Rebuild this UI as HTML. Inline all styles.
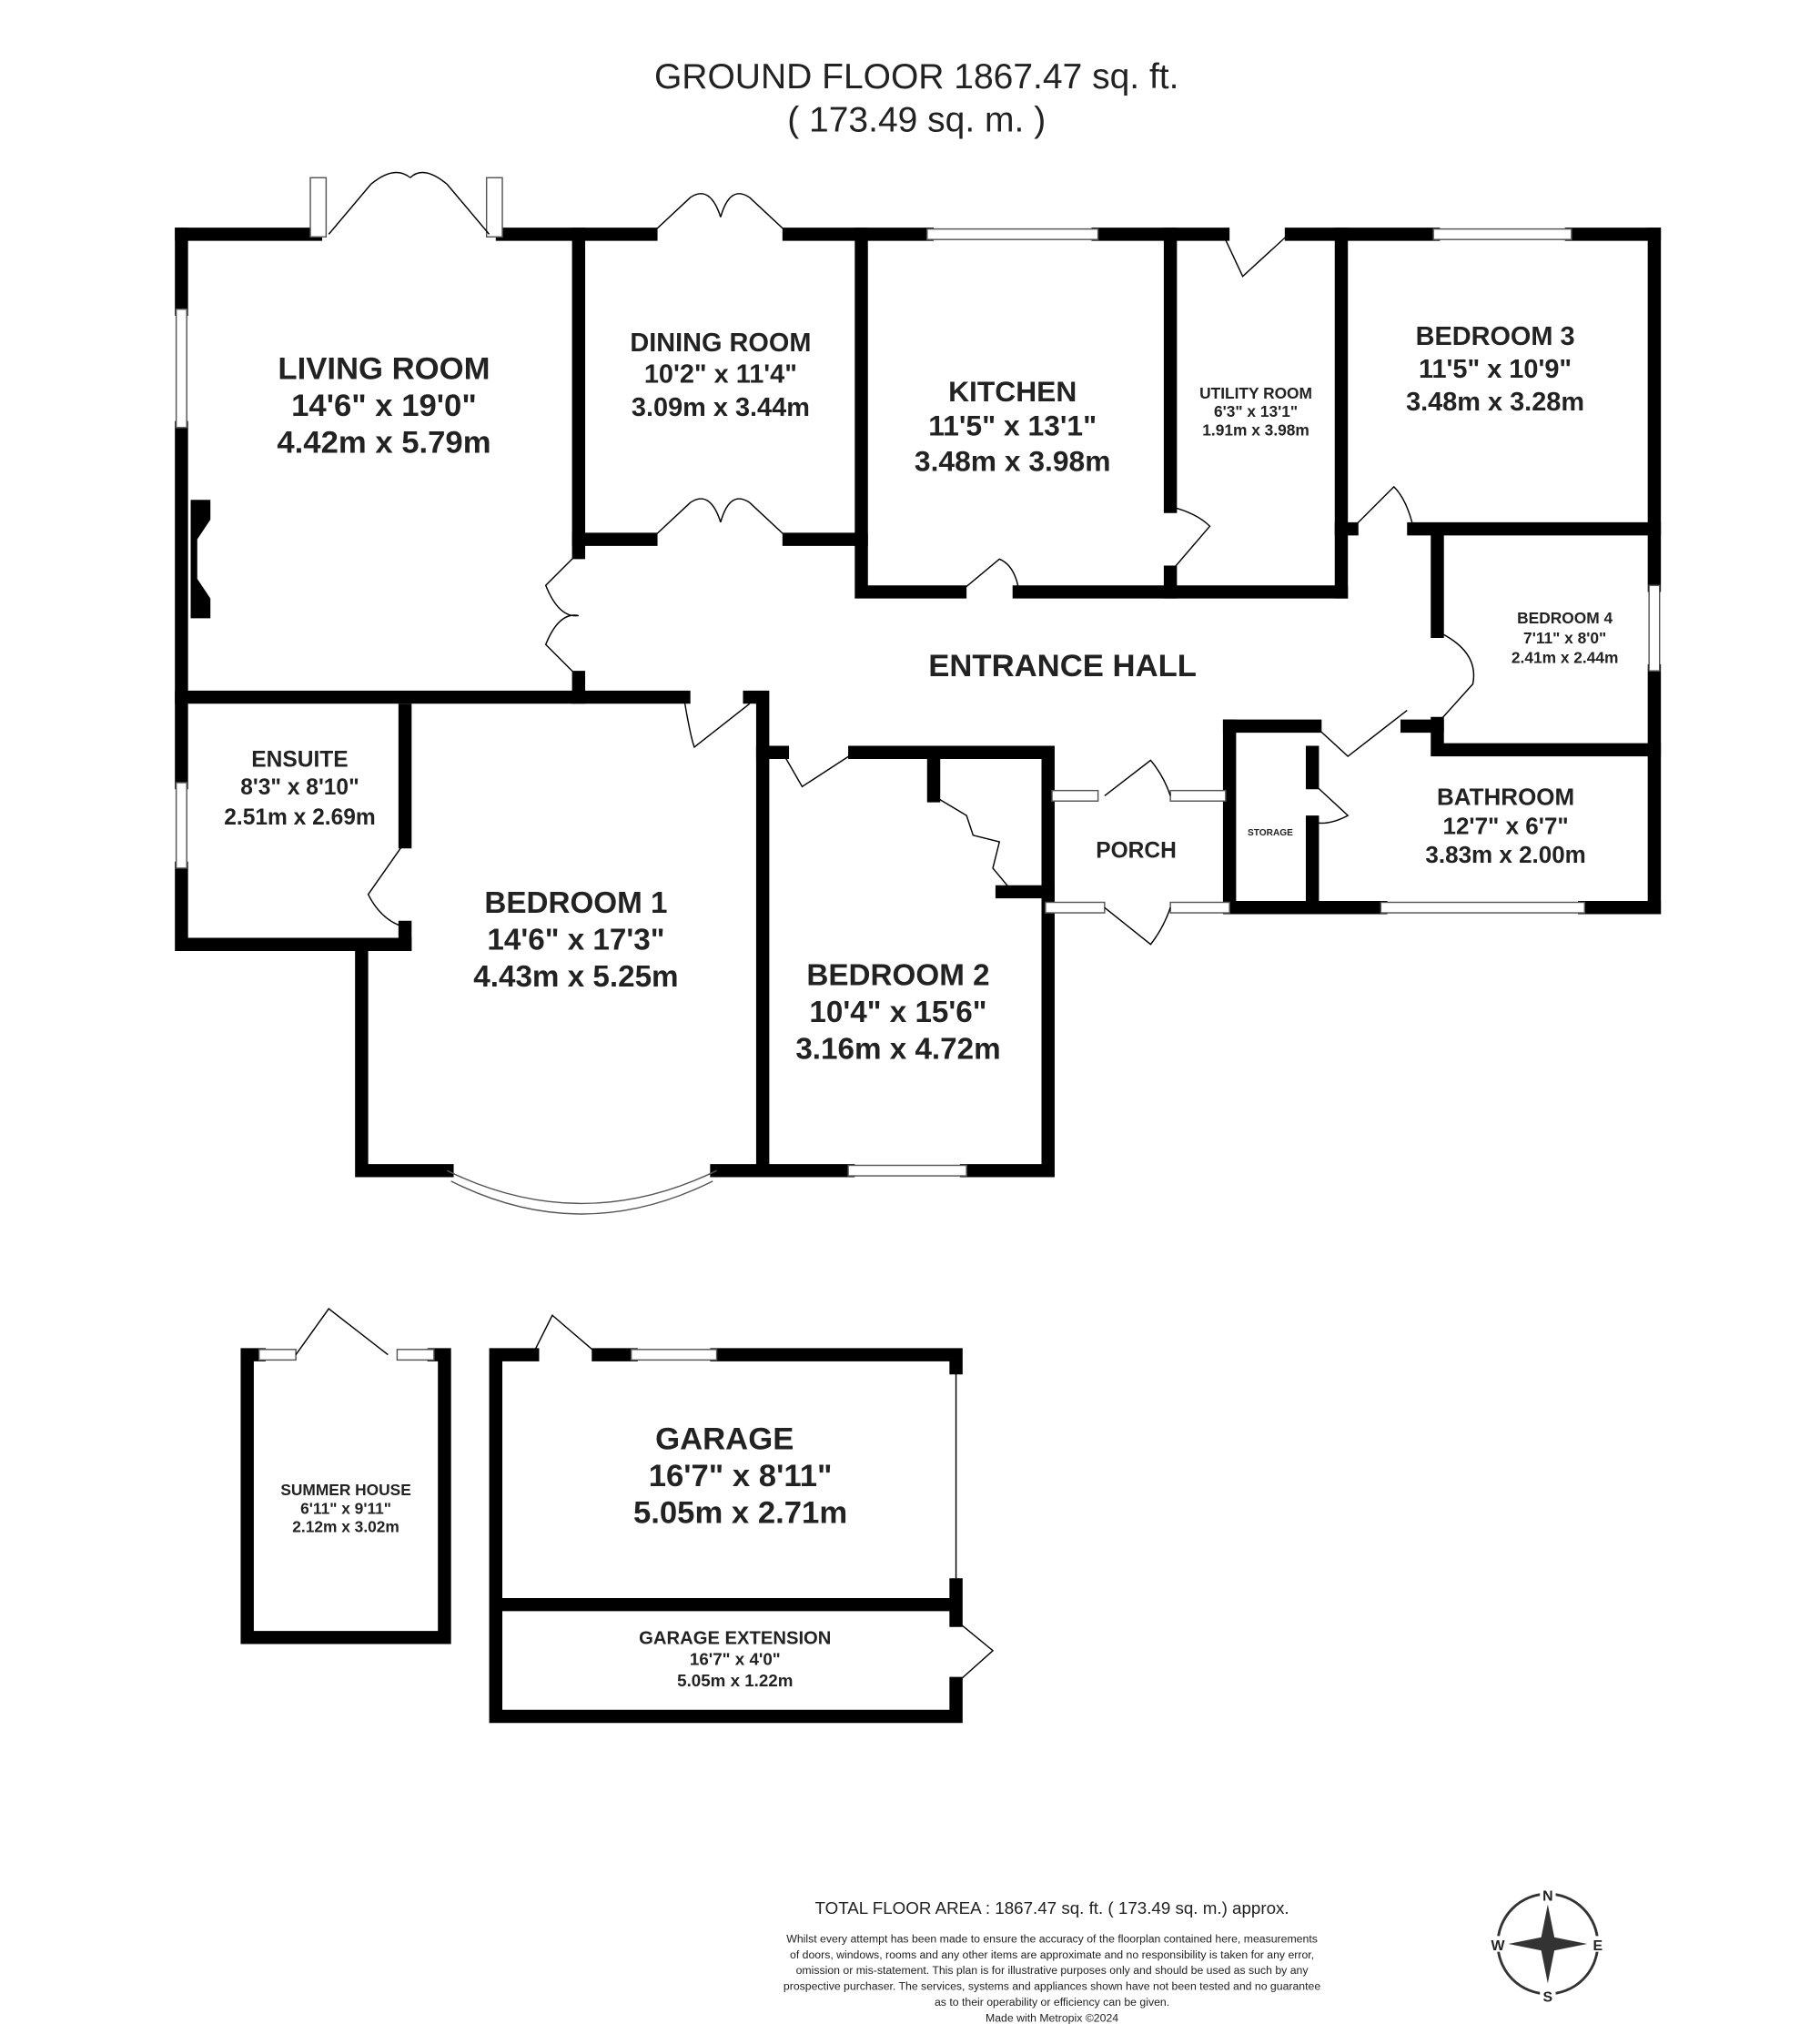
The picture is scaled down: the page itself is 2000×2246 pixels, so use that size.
<!DOCTYPE html>
<html><head><meta charset="utf-8"><style>
html,body{margin:0;padding:0;background:#fff}
svg{display:block}
text{font-family:"Liberation Sans",sans-serif;fill:#222;text-anchor:middle}
.b{font-weight:bold}
</style></head><body>
<svg width="2000" height="2246" viewBox="0 0 1384 1554" xmlns="http://www.w3.org/2000/svg">
<g stroke="#000" stroke-width="10" stroke-linecap="square" fill="none">
<path d="M138 178H240 M382 178H495 M600 178H705 M835 178H930 M982 178H1090 M1195 178H1258"/>
<path d="M1258 178V445 M1258 510V690"/>
<path d="M138 178V235 M138 325V595 M138 660V718H308"/>
<path d="M440 178V420 M440 515V530"/>
<path d="M440 410H495 M600 410H655"/>
<path d="M655 178V450H730 M775 450H1020"/>
<path d="M890 178V385 M890 435V450"/>
<path d="M1020 178V450"/>
<path d="M1020 402H1028 M1075 402H1258 M1093 402V480 M1093 550V570H1258"/>
<path d="M935 552H1000 M1070 552H1093"/>
<path d="M935 552V690H1050 M1205 690H1258"/>
<path d="M998 572V595 M998 625V690"/>
<path d="M138 530H520 M570 530H580V890"/>
<path d="M308 540V640 M308 705V718"/>
<path d="M275 718V890H340 M545 890H580"/>
<path d="M580 572H595 M650 572H797V690 M797 690V890H735 M645 890H580"/>
<path d="M710 572V605 M762 678H797"/>
<path d="M188 1030H197 M330 1030H338V1245H188V1030"/>
<path d="M377 1030V1305H727V1280 M727 1232V1205 M377 1030H405 M455 1030H480 M545 1030H727V1040 M377 1220H727"/>
</g>
<g stroke="#000" stroke-width="1" fill="none">
<line x1="727" y1="1040" x2="727" y2="1205"/>
<g fill="#fff" stroke="#555">
<rect x="236" y="135" width="12" height="45"/><rect x="370" y="135" width="12" height="45"/>
<rect x="705" y="174" width="130" height="8"/><rect x="1090" y="174" width="105" height="8"/>
<rect x="134" y="235" width="8" height="90"/><rect x="134" y="595" width="8" height="65"/>
<rect x="1254" y="445" width="8" height="65"/><rect x="1050" y="686" width="155" height="8"/>
<rect x="645" y="886" width="90" height="8"/>
<rect x="800" y="601" width="35" height="8"/><rect x="890" y="601" width="42" height="8"/>
<rect x="795" y="686" width="45" height="8"/><rect x="890" y="686" width="45" height="8"/>
<rect x="197" y="1026" width="28" height="8"/><rect x="302" y="1026" width="28" height="8"/>
<rect x="480" y="1026" width="65" height="8"/>
</g>
<path d="M340 890Q442 940 545 890 M343 898Q442 948 542 898" stroke="#555"/>
<path d="M250 178L282 140 M372 178L340 140 M282 140Q300 125 312 135 M340 140Q322 125 312 135"/>
<path d="M495 178L525 150 M600 178L570 150 M525 150Q540 140 548 165 M570 150Q555 140 548 165"/>
<path d="M495 410L525 382 M600 410L570 382 M525 382Q540 372 548 397 M570 382Q555 372 548 397"/>
<path d="M440 420L415 445Q425 470 440 468 M440 515L415 490Q425 465 440 468"/>
<path d="M730 450L760 425Q772 430 775 450"/>
<path d="M890 435L920 400Q910 390 890 385"/>
<path d="M930 178L945 210L980 178"/>
<path d="M1028 402L1060 370Q1070 380 1075 402"/>
<path d="M1093 550L1120 520Q1125 495 1093 480"/>
<path d="M1000 552L1025 575L1070 540"/>
<path d="M998 595L1025 620Q1010 628 998 625"/>
<path d="M840 605L875 578Q885 590 890 605"/>
<path d="M840 690L875 718Q885 705 890 690"/>
<path d="M520 530Q525 560 528 568L570 535"/>
<path d="M595 572L610 598L650 572"/>
<path d="M710 605L735 620L740 635L760 640L755 660L770 678"/>
<path d="M308 640L280 680Q290 700 308 705"/>
<path d="M225 1030L250 995L295 1030"/>
<path d="M405 1030L420 1000L455 1030"/>
<path d="M727 1232L755 1255L727 1280"/>
</g>
<path d="M145 380H160V395L150 410V440L160 455V470H145Z" fill="#000"/>
<circle cx="1177" cy="1478" r="38" fill="none" stroke="#333" stroke-width="2"/>
<path d="M1177 1448L1182 1473L1207 1478L1182 1483L1177 1508L1172 1483L1147 1478L1172 1473Z" fill="#333"/>
<g fill="#fff"><rect x="1171" y="1434" width="12" height="12"/><rect x="1171" y="1510" width="12" height="12"/><rect x="1131" y="1472" width="12" height="12"/><rect x="1209" y="1472" width="12" height="12"/></g>
<g font-size="11" class="b"><text x="1177" y="1445">N</text><text x="1177" y="1522">S</text><text x="1139" y="1483">W</text><text x="1215" y="1483">E</text></g>
<text x="697" y="67" font-size="27">GROUND FLOOR 1867.47 sq. ft.</text>
<text x="697" y="100" font-size="27">( 173.49 sq. m. )</text>
<g class="b">
<text x="292" y="288" font-size="24">LIVING ROOM</text><text x="292" y="316" font-size="24">14'6" x 19'0"</text><text x="292" y="344" font-size="24">4.42m x 5.79m</text>
<text x="548" y="267" font-size="20">DINING ROOM</text><text x="548" y="291" font-size="20">10'2" x 11'4"</text><text x="548" y="316" font-size="20">3.09m x 3.44m</text>
<text x="770" y="305" font-size="22">KITCHEN</text><text x="770" y="331" font-size="22">11'5" x 13'1"</text><text x="770" y="358" font-size="22">3.48m x 3.98m</text>
<text x="955" y="303" font-size="12">UTILITY ROOM</text><text x="955" y="317" font-size="12">6'3" x 13'1"</text><text x="955" y="331" font-size="12">1.91m x 3.98m</text>
<text x="1137" y="262" font-size="20">BEDROOM 3</text><text x="1137" y="287" font-size="20">11'5" x 10'9"</text><text x="1137" y="312" font-size="20">3.48m x 3.28m</text>
<text x="1190" y="474" font-size="12">BEDROOM 4</text><text x="1190" y="489" font-size="12">7'11" x 8'0"</text><text x="1190" y="504" font-size="12">2.41m x 2.44m</text>
<text x="808" y="514" font-size="24">ENTRANCE HALL</text>
<text x="228" y="583" font-size="17">ENSUITE</text><text x="228" y="604" font-size="17">8'3" x 8'10"</text><text x="228" y="627" font-size="17">2.51m x 2.69m</text>
<text x="438" y="694" font-size="23">BEDROOM 1</text><text x="438" y="722" font-size="23">14'6" x 17'3"</text><text x="438" y="750" font-size="23">4.43m x 5.25m</text>
<text x="683" y="749" font-size="23">BEDROOM 2</text><text x="683" y="777" font-size="23">10'4" x 15'6"</text><text x="683" y="805" font-size="23">3.16m x 4.72m</text>
<text x="864" y="652" font-size="17">PORCH</text>
<text x="966" y="635" font-size="7">STORAGE</text>
<text x="1145" y="612" font-size="18">BATHROOM</text><text x="1145" y="634" font-size="18">12'7" x 6'7"</text><text x="1145" y="656" font-size="18">3.83m x 2.00m</text>
<text x="263" y="1137" font-size="12">SUMMER HOUSE</text><text x="263" y="1151" font-size="12">6'11" x 9'11"</text><text x="263" y="1165" font-size="12">2.12m x 3.02m</text>
<text x="551" y="1102" font-size="24">GARAGE</text><text x="563" y="1130" font-size="24">16'7" x 8'11"</text><text x="563" y="1158" font-size="24">5.05m x 2.71m</text>
<text x="559" y="1250" font-size="14">GARAGE EXTENSION</text><text x="559" y="1266" font-size="13">16'7" x 4'0"</text><text x="559" y="1282" font-size="13">5.05m x 1.22m</text>
</g>
<text x="800" y="1455" font-size="13">TOTAL FLOOR AREA : 1867.47 sq. ft. ( 173.49 sq. m.) approx.</text>
<g font-size="8.5" fill="#444">
<text x="800" y="1477">Whilst every attempt has been made to ensure the accuracy of the floorplan contained here, measurements</text>
<text x="800" y="1489">of doors, windows, rooms and any other items are approximate and no responsibility is taken for any error,</text>
<text x="800" y="1501">omission or mis-statement. This plan is for illustrative purposes only and should be used as such by any</text>
<text x="800" y="1513">prospective purchaser. The services, systems and appliances shown have not been tested and no guarantee</text>
<text x="800" y="1525">as to their operability or efficiency can be given.</text>
<text x="800" y="1537">Made with Metropix ©2024</text>
</g>
</svg>
</body></html>
